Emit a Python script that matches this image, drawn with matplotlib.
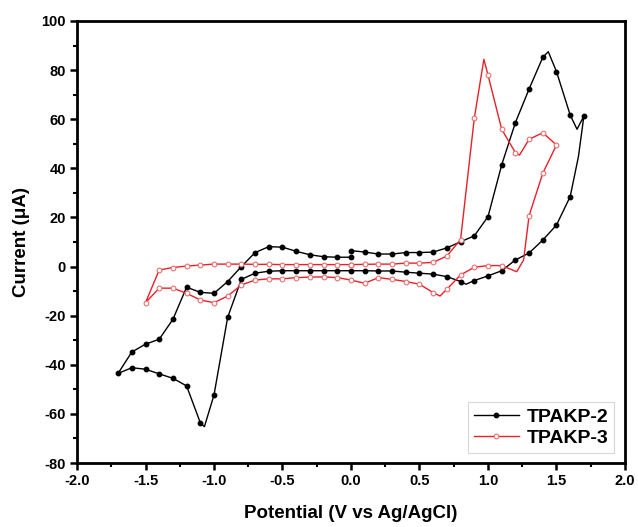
import matplotlib
matplotlib.use("Agg")
import matplotlib.pyplot as plt
from matplotlib.ticker import MultipleLocator

plt.rcParams["font.family"] = ["Liberation Sans", "DejaVu Sans"]
plt.rcParams["font.weight"] = "bold"
plt.rcParams["axes.unicode_minus"] = False

# TPAKP-2: scan starts at 0 V, goes to +1.7 V, back to -1.7 V, then to 0 V
tpakp2_potential = [
    0.0, 0.1, 0.2, 0.3, 0.4, 0.5, 0.6, 0.7, 0.8, 0.9, 1.0, 1.1, 1.2, 1.3, 1.4,
    1.44, 1.5, 1.6, 1.65, 1.7,
    1.66, 1.6, 1.5, 1.4, 1.3, 1.2, 1.1, 1.0, 0.9, 0.84, 0.8, 0.7, 0.6, 0.5,
    0.4, 0.3, 0.2, 0.1, 0.0, -0.1, -0.2, -0.3, -0.4, -0.5, -0.6, -0.7, -0.8,
    -0.9, -1.0, -1.07, -1.1, -1.2, -1.3, -1.4, -1.5, -1.6, -1.7,
    -1.6, -1.5, -1.4, -1.3, -1.2, -1.1, -1.0, -0.9, -0.8, -0.7, -0.6, -0.5,
    -0.4, -0.3, -0.2, -0.1, 0.0,
]
tpakp2_current = [
    6.5, 5.9, 5.1, 5.1, 5.7, 5.7, 5.9, 7.6, 10.1, 12.5, 20.3, 41.4, 58.6, 72.3, 85.2,
    87.5, 79.4, 61.7, 55.9, 61.3,
    44.7, 28.5, 16.9, 10.8, 5.5, 2.7, -1.7, -3.8, -5.7, -7.2, -6.1, -4.1, -3.1, -2.7,
    -2.3, -1.8, -1.8, -1.7, -1.7, -1.7, -1.7, -1.7, -1.7, -1.7, -1.9, -2.7, -5.2,
    -20.6, -52.3, -65.2, -63.6, -48.6, -45.5, -43.7, -41.8, -41.2, -43.5,
    -34.8, -31.6, -29.6, -21.5, -8.4, -10.5, -10.9, -6.1, 0.0, 5.7, 8.1, 7.9,
    6.2, 4.8, 4.0, 3.8, 3.8,
]

# TPAKP-3: scan starts at 0 V, goes to +1.5 V, back to -1.5 V, then to 0 V
tpakp3_potential = [
    0.0, 0.1, 0.2, 0.3, 0.4, 0.5, 0.6, 0.7, 0.8, 0.9, 0.97, 1.0, 1.1, 1.2, 1.23,
    1.3, 1.4, 1.5,
    1.4, 1.3, 1.26, 1.21, 1.1, 1.0, 0.9, 0.8, 0.7, 0.65, 0.6, 0.5, 0.4, 0.3,
    0.2, 0.1, 0.0, -0.1, -0.2, -0.3, -0.4, -0.5, -0.6, -0.7, -0.8, -0.9, -1.0,
    -1.1, -1.2, -1.3, -1.4, -1.5,
    -1.4, -1.3, -1.2, -1.1, -1.0, -0.9, -0.8, -0.7, -0.6, -0.5, -0.4, -0.3,
    -0.2, -0.1, 0.0,
]
tpakp3_current = [
    0.8, 0.9, 1.0, 1.0, 1.4, 1.4, 1.7, 4.3, 11.0, 60.4, 84.4, 78.0, 55.9, 46.4, 45.4,
    51.8, 54.5, 49.5,
    38.0, 20.7, 2.7, -2.1, 0.4, 0.4, -0.3, -3.4, -9.2, -12.0, -10.6, -7.2, -6.1, -5.2,
    -4.5, -6.8, -5.5, -4.5, -4.2, -4.3, -4.5, -5.0, -5.0, -5.5, -7.5, -12.0, -14.7,
    -13.6, -10.9, -8.8, -8.8, -14.7,
    -1.4, -0.4, 0.2, 0.6, 1.0, 1.0, 1.0, 0.9, 0.9, 0.8, 0.8, 0.8,
    0.8, 0.8, 0.8,
]


def grid_marks(xs):
    # markers only where the instrument recorded a point (every 0.1 V)
    return [i for i, x in enumerate(xs) if abs(x * 10 - round(x * 10)) < 0.02]


fig = plt.figure(figsize=(6.38, 5.27), dpi=100)
ax = fig.add_axes([0.1207, 0.1214, 0.8589, 0.8388])

ax.plot(tpakp2_potential, tpakp2_current, color="black", linewidth=1.0,
        marker="o", markersize=3.2, markerfacecolor="black", markeredgecolor="black",
        markevery=grid_marks(tpakp2_potential), label="TPAKP-2")
ax.plot(tpakp3_potential, tpakp3_current, color="#e8202a", linewidth=1.0,
        marker="o", markersize=3.4, markerfacecolor="white", markeredgecolor="#e87070",
        markeredgewidth=0.8, markevery=grid_marks(tpakp3_potential), label="TPAKP-3")

ax.set_xlim(-2.0, 2.0)
ax.set_ylim(-80, 100)
ax.xaxis.set_major_locator(MultipleLocator(0.5))
ax.xaxis.set_minor_locator(MultipleLocator(0.25))
ax.yaxis.set_major_locator(MultipleLocator(20))
ax.yaxis.set_minor_locator(MultipleLocator(10))
ax.xaxis.set_major_formatter(matplotlib.ticker.FormatStrFormatter("%.1f"))

for spine in ax.spines.values():
    spine.set_linewidth(2.0)
ax.tick_params(which="major", direction="out", length=5, width=1.8, labelsize=10.5, pad=3)
ax.tick_params(which="minor", direction="out", length=3, width=1.5)

ax.set_xlabel("Potential (V vs Ag/AgCl)", fontsize=13.5, fontweight="bold", labelpad=12)
ax.set_ylabel("Current (\u03bcA)", fontsize=13.5, fontweight="bold", labelpad=8)

leg = ax.legend(loc="lower right", bbox_to_anchor=(0.98, 0.023), borderaxespad=0,
                fontsize=14, frameon=True, fancybox=False, edgecolor="#cccccc",
                handlelength=2.3, handletextpad=0.4, labelspacing=0.2, borderpad=0.3)
leg.get_frame().set_linewidth(0.8)

fig.savefig("out.png", dpi=100)
